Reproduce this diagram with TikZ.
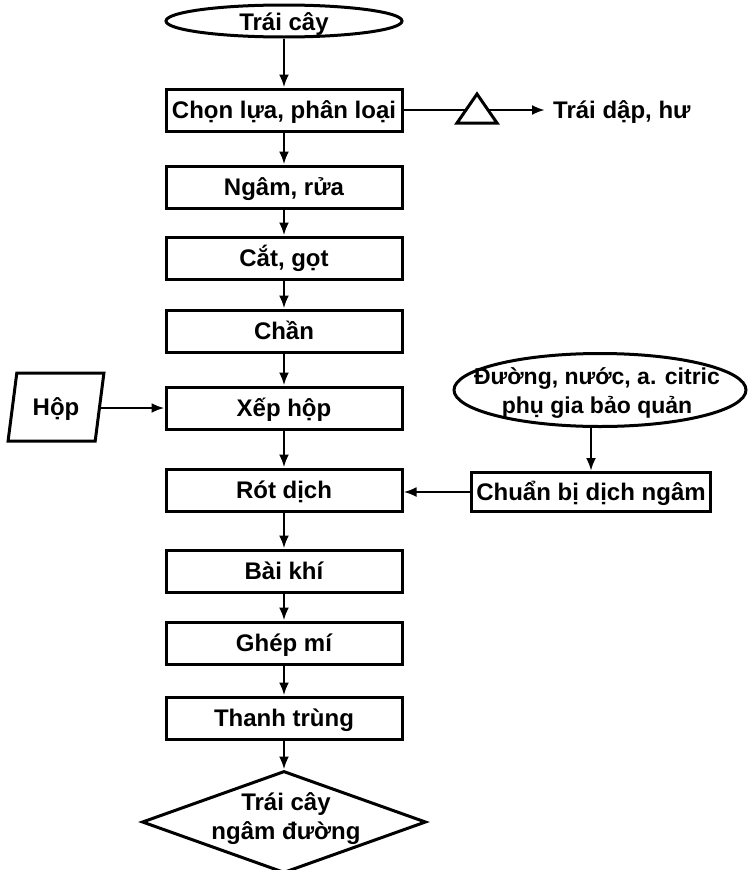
\documentclass[tikz,border=0pt]{standalone}
\usepackage{fontspec}
\setmainfont{Liberation Sans}
\usetikzlibrary{shapes.geometric,arrows.meta}
\begin{document}
\begin{tikzpicture}[x=1pt,y=-1pt,
  every node/.style={font=\bfseries\fontsize{24}{29}\selectfont},
  box/.style={draw,line width=3pt,minimum width=236pt,minimum height=42pt,inner sep=0pt,text height=17pt,text depth=0pt},
  shp/.style={draw,line width=3pt,inner sep=0pt},
  txt/.style={inner sep=0pt,align=center},
  arr/.style={line width=2.8pt,-{Latex[length=13pt,width=10pt]}},
  ln/.style={line width=2.8pt}]
\useasboundingbox (0,0) rectangle (747,870);
% main column
\node[shp,ellipse,minimum width=236pt,minimum height=32pt] (start) at (284,21) {};
\node[txt,text height=17pt,text depth=0pt] (starttxt) at (284,22) {Trái cây};
\node[box] (b1) at (284,110) {Chọn lựa, phân loại};
\node[box] (b2) at (284,187) {Ngâm, rửa};
\node[box] (b3) at (284,258) {Cắt, gọt};
\node[box] (b4) at (284,331) {Chần};
\node[box] (b5) at (284,408) {Xếp hộp};
\node[box] (b6) at (284,490) {Rót dịch};
\node[box] (b7) at (284,571) {Bài khí};
\node[box] (b8) at (284,643) {Ghép mí};
\node[box] (b9) at (284,718) {Thanh trùng};
\node[shp,diamond,minimum width=284pt,minimum height=102pt] (end) at (284,822) {};
\node[txt] (endtxt) at (286,819) {Trái cây\\ngâm đường};
% left input
\node[shp,trapezium,trapezium left angle=73,trapezium right angle=107,trapezium stretches=true,
      minimum width=96pt,minimum height=68pt,text height=17pt,text depth=0pt] (hop) at (56,407) {Hộp};
% right side
\node[shp,ellipse,minimum width=292pt,minimum height=73pt] (ing) at (600,390) {};
\node[txt,font=\bfseries\fontsize{23}{29}\selectfont] (ingtxt) at (597,393) {Đường, nước, a. citric\\phụ gia bảo quản};
\node[draw,line width=3pt,minimum width=239pt,minimum height=39pt,inner sep=0pt,text height=17pt,text depth=0pt] (cb) at (591,492) {Chuẩn bị dịch ngâm};
% reject branch
\draw[line width=3pt,line join=miter] (457,123) -- (497,123) -- (477,94) -- cycle;
\coordinate (triL) at (466,110);
\coordinate (triR) at (488,110);
\node[anchor=west,inner ysep=0pt,inner xsep=8pt,text height=17pt,text depth=0pt] (dap) at (545,110) {Trái dập, hư};
% connectors
\draw[arr] (start) -- (b1);
\draw[arr] (b1) -- (b2);
\draw[arr] (b2) -- (b3);
\draw[arr] (b3) -- (b4);
\draw[arr] (b4) -- (b5);
\draw[arr] (b5) -- (b6);
\draw[arr] (b6) -- (b7);
\draw[arr] (b7) -- (b8);
\draw[arr] (b8) -- (b9);
\draw[arr] (b9) -- (end);
\draw[ln] (b1.east) -- (triL);
\draw[arr] (triR) -- (dap.west |- triR);
\draw[arr] (hop.east |- b5.west) -- (b5.west);
\draw[arr] (cb.north |- ing.south) -- (cb.north);
\draw[arr] (cb.west) -- (cb.west -| b6.east);
\end{tikzpicture}
\end{document}
